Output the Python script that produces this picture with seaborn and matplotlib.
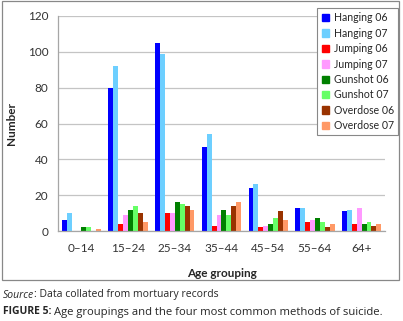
import numpy as np
import pandas as pd
import seaborn as sns
import matplotlib.pyplot as plt
from matplotlib.patches import Rectangle

# age groups and counts per method/year
ages = ["0–14", "15–24", "25–34", "35–44", "45–54", "55–64", "64+"]
hanging_06 = [6, 80, 105, 47, 24, 13, 11]
hanging_07 = [10, 92, 99, 54, 26, 13, 12]
jumping_06 = [0, 4, 10, 3, 2, 5, 4]
jumping_07 = [0, 9, 10, 9, 3, 6, 13]
gunshot_06 = [2, 12, 16, 12, 4, 7, 4]
gunshot_07 = [2, 14, 15, 9, 7, 5, 5]
overdose_06 = [0, 10, 14, 14, 11, 2, 3]
overdose_07 = [1, 5, 12, 16, 6, 4, 4]

series_names = ["Hanging 06", "Hanging 07", "Jumping 06", "Jumping 07",
                "Gunshot 06", "Gunshot 07", "Overdose 06", "Overdose 07"]
series_values = [hanging_06, hanging_07, jumping_06, jumping_07,
                 gunshot_06, gunshot_07, overdose_06, overdose_07]
colors = ["#0000ff", "#6dcfff", "#ff0000", "#ff99ff",
          "#008000", "#66ff66", "#993300", "#ff9966"]

rows = []
for name, vals in zip(series_names, series_values):
    for age, v in zip(ages, vals):
        rows.append({"age": age, "series": name, "value": v})
df = pd.DataFrame(rows)

sns.set_style("white")
plt.rcParams["font.family"] = ["Lato", "DejaVu Sans"]
cap_font = ["Open Sans", "DejaVu Sans"]

fig = plt.figure(figsize=(4.03, 3.21), dpi=100)
ax = fig.add_axes([58 / 403, 1 - 231 / 321, (385 - 58) / 403, (231 - 16) / 321])

sns.barplot(data=df, x="age", y="value", hue="series", order=ages,
            hue_order=series_names, palette=colors, saturation=1,
            width=0.84, edgecolor="none", linewidth=0, ax=ax, legend=False)

ax.set_ylim(0, 120)
ax.set_xlim(-0.5, len(ages) - 0.5)
ax.set_yticks(range(0, 121, 20))
ax.yaxis.grid(True, color="#c4c4c4", linewidth=0.9)
ax.set_axisbelow(True)

for s in ["top", "right"]:
    ax.spines[s].set_visible(False)
for s in ["left", "bottom"]:
    ax.spines[s].set_color("#a6a6a6")
    ax.spines[s].set_linewidth(0.9)

ax.set_xticks(np.arange(-0.5, len(ages), 1), minor=True)
ax.tick_params(axis="x", which="major", length=0, labelsize=8.5, pad=9, labelcolor="#333333")
ax.tick_params(axis="x", which="minor", length=4, color="#a6a6a6", width=0.9, direction="out")
ax.tick_params(axis="y", length=4, color="#a6a6a6", width=0.9, direction="out",
               labelsize=8.5, pad=3, labelcolor="#333333")

ax.set_xlabel("Age grouping", fontsize=8.5, fontweight="bold")
ax.xaxis.set_label_coords(0.5, -(268 - 231) / 215)
ax.set_ylabel("Number", fontsize=8.5, fontweight="bold")
ax.yaxis.set_label_coords(-(58 - 17) / 327, 0.5)

handles = [Rectangle((0, 0), 1, 1, color=c) for c in colors]
leg = ax.legend(handles, series_names, loc="upper right",
                bbox_to_anchor=(398 / 403, 1 - 8 / 321), bbox_transform=fig.transFigure,
                fontsize=7.6, frameon=True, fancybox=False, framealpha=1,
                edgecolor="#888888", handlelength=0.7, handleheight=0.7,
                handletextpad=0.45, labelspacing=0.42, borderpad=0.4,
                borderaxespad=0)
leg.get_frame().set_linewidth(0.8)

# chart frame
fig.patches.append(Rectangle((2 / 403, 1 - 280 / 321), 397 / 403, 279 / 321,
                             transform=fig.transFigure, fill=False,
                             edgecolor="#888888", linewidth=0.9))

# source and caption, second part placed after the first one
renderer = fig.canvas.get_renderer()
t1 = fig.text(3 / 403, 1 - 295 / 321, "Source", fontsize=7.5, style="italic",
              family=cap_font, va="center")
x1 = t1.get_window_extent(renderer).x1 / fig.bbox.width
fig.text(x1, 1 - 295 / 321, ": Data collated from mortuary records", fontsize=7.5,
         family=cap_font, va="center")
t2 = fig.text(3 / 403, 1 - 312 / 321, "FIGURE 5:", fontsize=7.5, fontweight="bold",
              family=cap_font, va="center")
x2 = t2.get_window_extent(renderer).x1 / fig.bbox.width
fig.text(x2 + 3 / 403, 1 - 312 / 321, "Age groupings and the four most common methods of suicide.",
         fontsize=8.1, family=cap_font, va="center")

fig.savefig("out.png", dpi=100)
